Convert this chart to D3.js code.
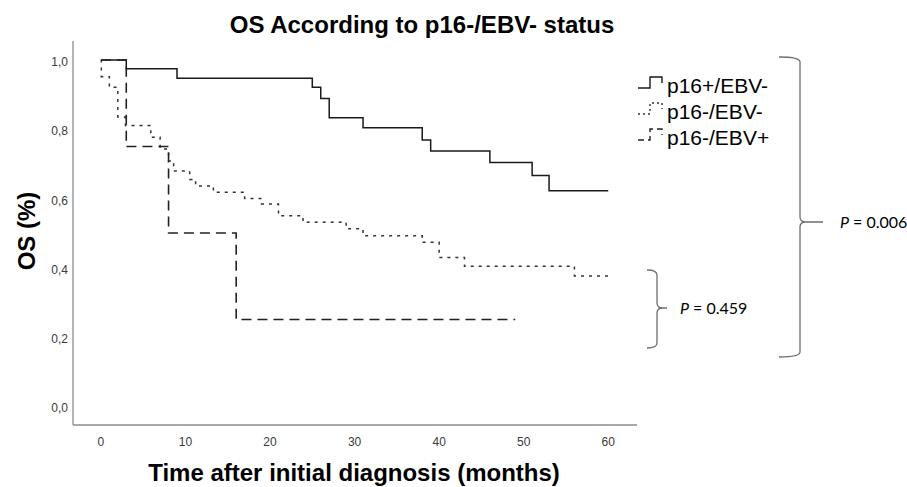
<!DOCTYPE html>
<meta charset="utf-8">
<script src="https://d3js.org/d3.v7.min.js"></script>
<style>
  body { margin: 0; background: #fff; }
  text { font-family: "Liberation Sans", Arial, sans-serif; }
</style>
<div id="chart"></div>
<script>

// ---- data ----
var groups = ["p16+/EBV-", "p16-/EBV-", "p16-/EBV+"];

// p16+/EBV-  (solid)
var posTime = [0, 3, 9, 25, 26, 27, 31, 38, 39, 46, 51, 53];
var posSurv = [1, 0.975, 0.947, 0.921, 0.889, 0.833, 0.804, 0.769, 0.737, 0.704, 0.666, 0.622];
var posEnd = 60;

// p16-/EBV-  (dotted)
var negTime = [0, 0.05, 1, 2, 2.9, 5.9, 7, 8, 8.6, 10.5, 11.2, 13.3, 17, 19, 21, 23.9, 29, 31, 38, 40, 43, 56];
var negSurv = [1, 0.952, 0.921, 0.835, 0.811, 0.777, 0.743, 0.708, 0.679, 0.655, 0.636, 0.618, 0.600, 0.584, 0.550, 0.531, 0.512, 0.492, 0.473, 0.429, 0.404, 0.376];
var negEnd = 60;

// p16-/EBV+  (dashed)
var ebvTime = [0, 3, 8, 16];
var ebvSurv = [1, 0.75, 0.5, 0.25];
var ebvEnd = 49;

var xTicks = [0, 10, 20, 30, 40, 50, 60];
var yTicks = [0, 0.2, 0.4, 0.6, 0.8, 1.0];
var pValues = ["0.006", "0.459"];

// ---- layout ----
var width = 907, height = 487;

var svg = d3.select("#chart").append("svg")
    .attr("width", width)
    .attr("height", height)
    .style("background", "#fff");

var x = d3.scaleLinear().domain([-3.3, 63.4]).range([73, 637]);
var y = d3.scaleLinear().domain([-0.055, 1.055]).range([425, 41]);

// axes: plain lines with labels, no tick marks
svg.append("line")
    .attr("x1", x.range()[0]).attr("x2", x.range()[0])
    .attr("y1", y.range()[0]).attr("y2", y.range()[1])
    .attr("stroke", "#8c8c8c").attr("stroke-width", 1.3);
svg.append("line")
    .attr("x1", x.range()[0]).attr("x2", x.range()[1])
    .attr("y1", y.range()[0]).attr("y2", y.range()[0])
    .attr("stroke", "#8c8c8c").attr("stroke-width", 1.3);

svg.selectAll(".xt").data(xTicks).enter().append("text")
    .attr("x", function(d) { return x(d); })
    .attr("y", 446)
    .attr("text-anchor", "middle")
    .style("font-size", "12px")
    .style("fill", "#3a3a3a")
    .text(function(d) { return d; });

svg.selectAll(".yt").data(yTicks).enter().append("text")
    .attr("x", 68)
    .attr("y", function(d) { return y(d) + 2; })
    .attr("dy", "0.35em")
    .attr("text-anchor", "end")
    .style("font-size", "12px")
    .style("fill", "#3a3a3a")
    .text(function(d) { return d3.format(".1f")(d).replace(".", ","); });

// titles
svg.append("text")
    .attr("x", 422).attr("y", 33)
    .attr("text-anchor", "middle")
    .style("font-size", "24px").style("font-weight", "bold")
    .text("OS According to p16-/EBV- status");

svg.append("text")
    .attr("transform", "translate(35,231) rotate(-90)")
    .attr("text-anchor", "middle")
    .style("font-size", "24px").style("font-weight", "bold")
    .text("OS (%)");

svg.append("text")
    .attr("x", 354).attr("y", 481)
    .attr("text-anchor", "middle")
    .style("font-size", "24px").style("font-weight", "bold")
    .text("Time after initial diagnosis (months)");

// ---- survival curves ----
var line = d3.line()
    .x(function(d) { return x(d[0]); })
    .y(function(d) { return y(d[1]); })
    .curve(d3.curveStepAfter);

function steps(times, surv, end) {
    var pts = times.map(function(t, i) { return [t, surv[i]]; });
    pts.push([end, surv[surv.length - 1]]);
    return pts;
}

var curves = [
    { pts: steps(posTime, posSurv, posEnd), dash: null, color: "#1a1a1a", w: 1.5 },
    { pts: steps(negTime, negSurv, negEnd), dash: "3,5", color: "#333", w: 1.5 },
    { pts: steps(ebvTime, ebvSurv, ebvEnd), dash: "10,6", color: "#222", w: 1.6 }
];

svg.selectAll(".curve").data(curves).enter().append("path")
    .attr("d", function(d) { return line(d.pts); })
    .attr("fill", "none")
    .attr("stroke", function(d) { return d.color; })
    .attr("stroke-width", function(d) { return d.w; })
    .attr("stroke-dasharray", function(d) { return d.dash; });

// ---- legend ----
var legend = svg.selectAll(".leg").data(groups).enter().append("g")
    .attr("transform", function(d, i) { return "translate(638," + (93 + i * 26) + ")"; });

legend.append("path")
    .attr("d", "M0,-5 H12 V-16 H24 V-10")
    .attr("fill", "none")
    .attr("stroke", function(d, i) { return curves[i].color; })
    .attr("stroke-width", 1.4)
    .attr("stroke-dasharray", function(d, i) { return i === 1 ? "2,3" : (i === 2 ? "6,4" : null); });

legend.append("text")
    .attr("x", 29).attr("y", 0)
    .style("font-size", "21px")
    .text(function(d) { return d; });

// ---- p-value braces ----
function brace(xl, xv, xt, y0, yMid, y1) {
    return "M" + xl + "," + y0 + " Q" + xv + "," + y0 + " " + xv + "," + (y0 + 5) +
        " V" + (yMid - 5) + " Q" + xv + "," + yMid + " " + (xv + 6) + "," + yMid +
        " H" + xt +
        " M" + (xv + 6) + "," + yMid + " Q" + xv + "," + yMid + " " + xv + "," + (yMid + 5) +
        " V" + (y1 - 5) + " Q" + xv + "," + y1 + " " + xl + "," + y1;
}

var braces = [
    { d: brace(779, 800, 823, 57, 222, 357), tx: 840, ty: 222, p: pValues[0] },
    { d: brace(647, 657, 667, 270, 308, 348), tx: 680, ty: 308, p: pValues[1] }
];

svg.selectAll(".brace").data(braces).enter().append("path")
    .attr("d", function(d) { return d.d; })
    .attr("fill", "none")
    .attr("stroke", "#6e6e6e")
    .attr("stroke-width", 1.3);

var pt = svg.selectAll(".pv").data(braces).enter().append("text")
    .attr("x", function(d) { return d.tx; })
    .attr("y", function(d) { return d.ty; })
    .attr("dy", "0.35em")
    .style("font-family", "Lato, 'Open Sans', sans-serif")
    .style("font-size", "16px");
pt.append("tspan").style("font-style", "italic").text("P");
pt.append("tspan").text(function(d) { return " = " + d.p; });

</script>
